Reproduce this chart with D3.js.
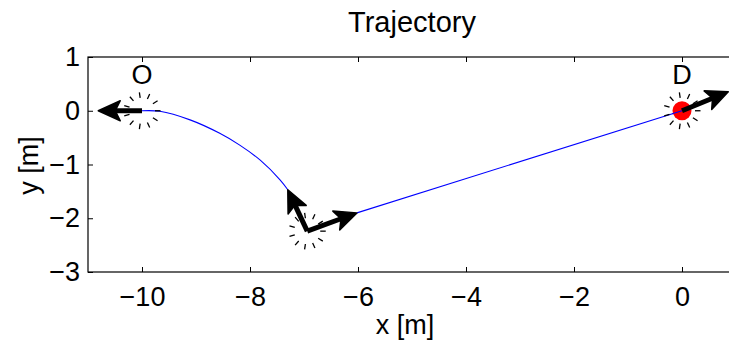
<!DOCTYPE html>
<html>
<head>
<meta charset="utf-8">
<script src="https://cdn.jsdelivr.net/npm/d3@7"></script>
<style>
  html, body { margin: 0; padding: 0; background: #fff; }
  svg { display: block; }
  text { font-family: "Liberation Sans", Arial, Helvetica, sans-serif; fill: #000; }
</style>
</head>
<body>
<svg id="chart" width="729" height="345"></svg>
<script>
// Axis ticks
const xTicks = [-10, -8, -6, -4, -2, 0];
const yTicks = [1, 0, -1, -2, -3];

// Curved path leaving the origin O
const curveX = [-10, -9.67, -9.11, -8.56, -8.19, -7.81, -7.44, -7.30];
const curveY = [0, -0.01, -0.17, -0.42, -0.64, -0.92, -1.29, -1.47];

// Straight segment towards the destination D
const lineX = [-6.02, 0];
const lineY = [-1.90, 0];

// Poses (centre of each dashed ring)
const poseX = [-10, -6.94, 0];
const poseY = [0, -2.24, 0];

// Heading arrows: start and end points
const arrowX0 = [-10, -6.94, -6.94, 0];
const arrowY0 = [0, -2.24, -2.24, 0];
const arrowX1 = [-10.81, -7.30, -6.02, 0.857];
const arrowY1 = [0, -1.47, -1.90, 0.353];

// Waypoint labels
const wpNames = ["O", "D"];
const wpX = [-10, 0];
const wpY = [0.5, 0.5];

// Destination marker
const goalX = [0];
const goalY = [0];

const svg = d3.select("#chart");
const margin = { left: 88, top: 57 };
const plotW = 648, plotH = 215;

const x = d3.scaleLinear().domain([-11, 1]).range([margin.left, margin.left + plotW]);
const y = d3.scaleLinear().domain([-3, 1]).range([margin.top + plotH, margin.top]);

const fs = 27;

// Title
svg.append("text")
  .attr("x", margin.left + plotW / 2)
  .attr("y", 32)
  .attr("text-anchor", "middle")
  .style("font-size", "29px")
  .text("Trajectory");

// Axes box
svg.append("rect")
  .attr("x", margin.left).attr("y", margin.top)
  .attr("width", plotW).attr("height", plotH)
  .attr("fill", "none").attr("stroke", "#000").attr("stroke-width", 1.2);

const fmt = d => (d < 0 ? "\u2212" + Math.abs(d) : String(d));

// Bottom axis (ticks point inward)
const xAxis = d3.axisBottom(x).tickValues(xTicks).tickSizeInner(-5).tickSizeOuter(0)
  .tickPadding(15).tickFormat(fmt);
const gx = svg.append("g").attr("transform", `translate(0,${margin.top + plotH})`).call(xAxis);
gx.select(".domain").remove();
gx.selectAll("text").style("font-size", fs + "px").attr("font-family", null);
gx.selectAll("line").attr("stroke", "#000");

// Top ticks
const xTop = d3.axisTop(x).tickValues(xTicks).tickSizeInner(-5).tickSizeOuter(0).tickFormat("");
const gt = svg.append("g").attr("transform", `translate(0,${margin.top})`).call(xTop);
gt.select(".domain").remove();

// Left axis
const yAxis = d3.axisLeft(y).tickValues(yTicks).tickSizeInner(-5).tickSizeOuter(0)
  .tickPadding(8).tickFormat(fmt);
const gy = svg.append("g").attr("transform", `translate(${margin.left},0)`).call(yAxis);
gy.select(".domain").remove();
gy.selectAll("text").style("font-size", fs + "px").attr("font-family", null);

// Right ticks
const yRight = d3.axisRight(y).tickValues(yTicks).tickSizeInner(-5).tickSizeOuter(0).tickFormat("");
const gr = svg.append("g").attr("transform", `translate(${margin.left + plotW},0)`).call(yRight);
gr.select(".domain").remove();

// Axis labels
svg.append("text")
  .attr("x", margin.left + plotW / 2 - 7)
  .attr("y", 334)
  .attr("text-anchor", "middle")
  .style("font-size", fs + "px")
  .text("x [m]");
svg.append("text")
  .attr("transform", `translate(37.5,${margin.top + plotH / 2 + 1}) rotate(-90)`)
  .attr("text-anchor", "middle")
  .style("font-size", fs + "px")
  .text("y [m]");

const plot = svg.append("g");

// Blue trajectory
const curvePts = curveX.map((d, i) => [d, curveY[i]]);
const linePts = lineX.map((d, i) => [d, lineY[i]]);
plot.append("path").datum(curvePts)
  .attr("d", d3.line().x(d => x(d[0])).y(d => y(d[1])).curve(d3.curveCatmullRom.alpha(0.5)))
  .attr("fill", "none").attr("stroke", "#0000ff").attr("stroke-width", 1.1);
plot.append("path").datum(linePts)
  .attr("d", d3.line().x(d => x(d[0])).y(d => y(d[1])))
  .attr("fill", "none").attr("stroke", "#0000ff").attr("stroke-width", 1.1);

// Destination disc
plot.selectAll("circle.goal").data(goalX).join("circle")
  .attr("class", "goal")
  .attr("cx", d => x(d)).attr("cy", (d, i) => y(goalY[i]))
  .attr("r", 9.5).attr("fill", "#ff0000");
// Blue end of the segment stays visible over the disc
plot.append("path").datum([[lineX[0] + (lineX[1] - lineX[0]) * 0.97, lineY[0] + (lineY[1] - lineY[0]) * 0.97], [lineX[1], lineY[1]]])
  .attr("d", d3.line().x(d => x(d[0])).y(d => y(d[1])))
  .attr("stroke", "#0000ff").attr("stroke-width", 1.1);

// Dashed rings of radial strokes round each pose
const nSpokes = 11, rIn = 13, rOut = 18.5;
poseX.forEach((px, i) => {
  const cx = x(px), cy = y(poseY[i]);
  d3.range(nSpokes).forEach(k => {
    const a = (k / nSpokes) * 2 * Math.PI;
    plot.append("line")
      .attr("x1", cx + rIn * Math.cos(a)).attr("y1", cy + rIn * Math.sin(a))
      .attr("x2", cx + rOut * Math.cos(a)).attr("y2", cy + rOut * Math.sin(a))
      .attr("stroke", "#000").attr("stroke-width", 1.3);
  });
});

// Heading arrows with bold heads
const headLen = 22, headHalf = 10, notch = 5;
arrowX0.forEach((x0, i) => {
  const sx = x(x0), sy = y(arrowY0[i]);
  const ex = x(arrowX1[i]), ey = y(arrowY1[i]);
  const dx = ex - sx, dy = ey - sy, L = Math.hypot(dx, dy);
  const ux = dx / L, uy = dy / L, nx = -uy, ny = ux;
  const bx = ex - ux * headLen, by = ey - uy * headLen;
  plot.append("line")
    .attr("x1", sx).attr("y1", sy).attr("x2", bx + ux * notch).attr("y2", by + uy * notch)
    .attr("stroke", "#000").attr("stroke-width", 5);
  const lx = bx + nx * headHalf, ly = by + ny * headHalf;
  const rx = bx - nx * headHalf, ry = by - ny * headHalf;
  const mx = bx + ux * notch, my = by + uy * notch;
  plot.append("path")
    .attr("d", `M${ex},${ey} L${lx},${ly} L${mx},${my} L${rx},${ry} Z`)
    .attr("fill", "#000").attr("stroke", "#000").attr("stroke-width", 1.5).attr("stroke-linejoin", "round");
});

// Waypoint labels
svg.selectAll("text.wp").data(wpNames).join("text")
  .attr("class", "wp")
  .attr("x", (d, i) => x(wpX[i]))
  .attr("y", (d, i) => y(wpY[i]))
  .attr("text-anchor", "middle")
  .style("font-size", fs + "px")
  .text(d => d);
</script>
</body>
</html>
